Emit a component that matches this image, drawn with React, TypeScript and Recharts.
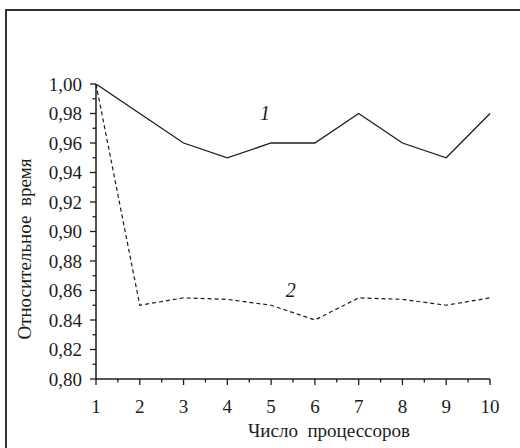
import React, { useEffect, useRef } from "react";
import { LineChart, Line, XAxis, YAxis, ReferenceDot } from "recharts";

const processors = [1, 2, 3, 4, 5, 6, 7, 8, 9, 10];
const series1 = [1.0, 0.98, 0.96, 0.95, 0.96, 0.96, 0.98, 0.96, 0.95, 0.98];
const series2 = [1.0, 0.85, 0.855, 0.854, 0.85, 0.84, 0.855, 0.854, 0.85, 0.855];

const xMajorTicks = [1, 2, 3, 4, 5, 6, 7, 8, 9, 10];
const xMinorTicks = [1.5, 2.5, 3.5, 4.5, 5.5, 6.5, 7.5, 8.5, 9.5];
const xTickLabels = ["1", "2", "3", "4", "5", "6", "7", "8", "9", "10"];

const yMajorTicks = [0.8, 0.82, 0.84, 0.86, 0.88, 0.9, 0.92, 0.94, 0.96, 0.98, 1.0];
const yMinorTicks = [0.81, 0.83, 0.85, 0.87, 0.89, 0.91, 0.93, 0.95, 0.97, 0.99];
const yTickLabels = ["0,80", "0,82", "0.84", "0,86", "0,88", "0,90", "0,92", "0,94", "0,96", "0,98", "1,00"];

const seriesLabels = [
  { text: "1", x: 4.86, y: 0.9803 },
  { text: "2", x: 5.45, y: 0.8603 },
];

const data = processors.map((n, i) => ({ n, s1: series1[i], s2: series2[i] }));

const FONT = "Liberation Serif";
const INK = "#1c1c1c";

const findIndex = (arr: number[], v: number) => arr.findIndex((a) => Math.abs(a - v) < 1e-6);

const XTick = (props: any) => {
  const { x, y, payload } = props;
  const idx = findIndex(xMajorTicks, payload.value);
  const major = idx >= 0;
  return (
    <g>
      <line x1={x} y1={y} x2={x} y2={y + (major ? 6 : 3.5)} stroke={INK} strokeWidth={1.3} />
      {major && (
        <text x={x} y={y + 34} textAnchor="middle" fill={INK} fontFamily={FONT} fontSize={19}>
          {xTickLabels[idx]}
        </text>
      )}
    </g>
  );
};

const YTick = (props: any) => {
  const { x, y, payload } = props;
  const idx = findIndex(yMajorTicks, payload.value);
  const major = idx >= 0;
  return (
    <g>
      <line x1={x} y1={y} x2={x - (major ? 6 : 3.5)} y2={y} stroke={INK} strokeWidth={1.3} />
      {major && (
        <text x={x - 14} y={y + 6.5} textAnchor="end" fill={INK} fontFamily={FONT} fontSize={19}>
          {yTickLabels[idx]}
        </text>
      )}
    </g>
  );
};

const allX = [...xMajorTicks, ...xMinorTicks].sort((a, b) => a - b);
const allY = [...yMajorTicks, ...yMinorTicks].sort((a, b) => a - b);

export default function App() {
  const ref = useRef<HTMLDivElement>(null);
  useEffect(() => {
    const apply = () => {
      if (!ref.current) return;
      ref.current.querySelectorAll("text, tspan").forEach((el: any) => {
        el.setAttribute("font-family", FONT);
        el.style.setProperty("font-family", FONT, "important");
      });
    };
    apply();
    const t = setTimeout(apply, 50);
    return () => clearTimeout(t);
  });
  return (
    <div
      ref={ref}
      style={{
        position: "absolute",
        left: 0,
        top: 0,
        width: 520,
        height: 448,
        overflow: "hidden",
        background: "#fff",
        fontFamily: FONT,
      }}
    >
      <div
        style={{
          position: "absolute",
          left: 5,
          top: 9,
          right: -20,
          bottom: -20,
          borderTop: "2px solid #333",
          borderLeft: "2px solid #333",
        }}
      />
      <div style={{ position: "absolute", left: 0, top: 0 }}>
        <LineChart width={520} height={448} data={data} margin={{ top: 84, right: 30, left: 0, bottom: 0 }}>
          <XAxis
            dataKey="n"
            type="number"
            domain={[1, 10]}
            ticks={allX}
            interval={0}
            tickSize={0}
            tickMargin={0}
            tickLine={false}
            tick={<XTick />}
            height={69}
            axisLine={{ stroke: INK, strokeWidth: 1.5 }}
            label={{
              content: () => (
                <text x={329} y={437} textAnchor="middle" fill={INK} fontFamily={FONT} fontSize={19}>
                  {"Число\u00A0 процессоров"}
                </text>
              ),
            }}
          />
          <YAxis
            type="number"
            domain={[0.8, 1.0]}
            ticks={allY}
            interval={0}
            tickSize={0}
            tickMargin={0}
            tickLine={false}
            tick={<YTick />}
            width={96}
            axisLine={{ stroke: INK, strokeWidth: 1.5 }}
            allowDataOverflow
            label={{
              content: () => (
                <text
                  x={31}
                  y={249}
                  transform="rotate(-90 31 249)"
                  textAnchor="middle"
                  fill={INK}
                  fontFamily={FONT}
                  fontSize={19}
                >
                  {"Относительное\u00A0 время"}
                </text>
              ),
            }}
          />
          <Line
            type="linear"
            dataKey="s1"
            stroke={INK}
            strokeWidth={1.3}
            dot={false}
            activeDot={false}
            isAnimationActive={false}
          />
          <Line
            type="linear"
            dataKey="s2"
            stroke={INK}
            strokeWidth={1.2}
            strokeDasharray="4 3"
            dot={false}
            activeDot={false}
            isAnimationActive={false}
          />
          {seriesLabels.map((l) => (
            <ReferenceDot
              key={l.text}
              x={l.x}
              y={l.y}
              r={0}
              stroke="none"
              fill="none"
              label={{
                value: l.text,
                position: "center",
                fill: INK,
                fontFamily: FONT,
                fontSize: 20,
                fontStyle: "italic",
              }}
            />
          ))}
        </LineChart>
      </div>
    </div>
  );
}
